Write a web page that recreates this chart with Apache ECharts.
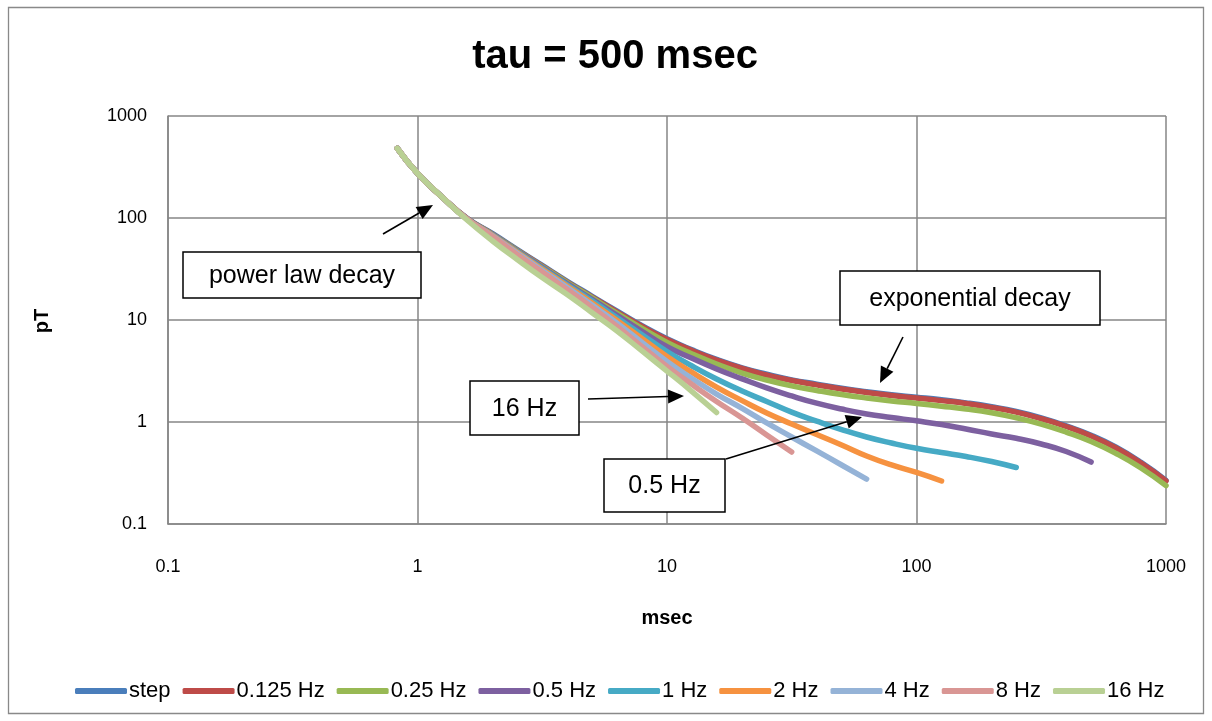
<!DOCTYPE html>
<html><head><meta charset="utf-8">
<script src="https://cdn.jsdelivr.net/npm/echarts@6/dist/echarts.min.js"></script>
<style>html,body{margin:0;padding:0;background:#fff}#c{width:1212px;height:721px}</style>
</head><body><div id="c"></div>
<script>
// time axis (msec), shared by all series
const timeMs = [0.83, 1, 1.26, 1.58, 2, 2.51, 3.16, 3.98, 5.01, 6.31, 7.94, 10, 12.6, 15.8, 20, 25.1, 31.6, 39.8, 50.1, 63.1, 79.4, 100, 126, 158, 200, 251, 316, 398, 501, 631, 794, 1000];

// pT values per series
const stepVals  = [482, 274, 159, 99.5, 70.3, 49.1, 34.3, 24.0, 17.1, 12.2, 8.78, 6.54, 5.10, 4.11, 3.40, 2.94, 2.59, 2.35, 2.14, 1.98, 1.85, 1.75, 1.65, 1.54, 1.41, 1.27, 1.10, 0.917, 0.741, 0.565, 0.402, 0.268];
const hz0125    = [482, 274, 159, 98.9, 69.2, 48.3, 33.8, 23.6, 16.8, 11.98, 8.64, 6.44, 5.02, 4.05, 3.35, 2.89, 2.55, 2.31, 2.11, 1.95, 1.82, 1.72, 1.62, 1.52, 1.39, 1.25, 1.08, 0.903, 0.729, 0.556, 0.396, 0.264];
const hz025     = [482, 274, 159, 98.5, 68.9, 47.9, 33.4, 23.3, 16.5, 11.6, 8.26, 6.02, 4.64, 3.70, 3.02, 2.58, 2.26, 2.04, 1.86, 1.72, 1.61, 1.52, 1.43, 1.34, 1.23, 1.10, 0.954, 0.797, 0.644, 0.491, 0.354, 0.238];
const hz05      = [482, 274, 159, 98.3, 68.4, 47.5, 32.9, 22.7, 15.95, 11.1, 7.73, 5.47, 4.21, 3.31, 2.65, 2.16, 1.80, 1.53, 1.34, 1.20, 1.107, 1.027, 0.945, 0.854, 0.763, 0.692, 0.609, 0.514, 0.405];
const hz1       = [482, 274, 159, 98.1, 68.0, 46.8, 32.2, 22.1, 15.4, 10.5, 7.16, 4.91, 3.54, 2.64, 2.01, 1.59, 1.25, 1.02, 0.844, 0.713, 0.622, 0.552, 0.502, 0.459, 0.410, 0.358];
const hz2       = [482, 274, 159, 97.9, 67.4, 46.1, 31.5, 21.5, 14.7, 9.91, 6.59, 4.39, 3.06, 2.20, 1.62, 1.225, 0.956, 0.754, 0.595, 0.464, 0.379, 0.320, 0.264];
const hz4       = [482, 274, 159, 97.6, 66.6, 45.2, 30.6, 20.8, 14.0, 9.30, 6.03, 3.92, 2.67, 1.88, 1.36, 0.978, 0.713, 0.520, 0.379, 0.276];
const hz8       = [482, 274, 159, 97.2, 65.7, 44.0, 29.5, 19.9, 13.3, 8.66, 5.49, 3.50, 2.33, 1.59, 1.094, 0.746, 0.508];
const hz16      = [482, 274, 159, 95.6, 59.5, 39.2, 26.1, 17.8, 11.8, 7.80, 4.97, 3.16, 1.99, 1.24];

const seriesNames = ['step', '0.125 Hz', '0.25 Hz', '0.5 Hz', '1 Hz', '2 Hz', '4 Hz', '8 Hz', '16 Hz'];
const seriesVals = [stepVals, hz0125, hz025, hz05, hz1, hz2, hz4, hz8, hz16];
const colors = ['#4A7EBB', '#BE4B48', '#98B954', '#7D60A0', '#46AAC5', '#F69240', '#95B3D7', '#D99694', '#B9D094'];

const xTickLabels = ['0.1', '1', '10', '100', '1000'];
const yTickLabels = ['0.1', '1', '10', '100', '1000'];

const FONT = '"Liberation Sans", Arial, sans-serif';
const GRID = '#868686';

const chart = echarts.init(document.getElementById('c'), null, {renderer: 'canvas'});

function arrow(x1, y1, x2, y2) {
  const dx = x2 - x1, dy = y2 - y1;
  const len = Math.sqrt(dx * dx + dy * dy);
  const ux = dx / len, uy = dy / len;
  const hl = 16, hw = 7;
  const bx = x2 - ux * hl, by = y2 - uy * hl;
  return [
    {type: 'line', z: 100, shape: {x1: x1, y1: y1, x2: bx, y2: by}, style: {stroke: '#000', lineWidth: 1.6}},
    {type: 'polygon', z: 100, shape: {points: [[x2, y2], [bx - uy * hw, by + ux * hw], [bx + uy * hw, by - ux * hw]]}, style: {fill: '#000'}}
  ];
}
function box(x, y, w, h, text) {
  return [
    {type: 'rect', z: 100, shape: {x: x, y: y, width: w, height: h}, style: {fill: '#fff', stroke: '#000', lineWidth: 1.5}},
    {type: 'text', z: 101, x: x + w / 2, y: y + h / 2 + 1, style: {text: text, font: '25px ' + FONT, fill: '#000', textAlign: 'center', textVerticalAlign: 'middle'}}
  ];
}

const graphics = [].concat(
  [{type: 'rect', z: -1, shape: {x: 8.5, y: 7.5, width: 1195, height: 706}, style: {fill: null, stroke: '#898989', lineWidth: 1.3}}],
  [{type: 'text', x: 615, y: 57, style: {text: 'tau = 500 msec', font: 'bold 40px ' + FONT, fill: '#000', textAlign: 'center', textVerticalAlign: 'middle'}}],
  [{type: 'text', x: 667, y: 618, style: {text: 'msec', font: 'bold 20px ' + FONT, fill: '#000', textAlign: 'center', textVerticalAlign: 'middle'}}],
  [{type: 'text', x: 42, y: 321, rotation: Math.PI / 2, style: {text: 'pT', font: 'bold 20px ' + FONT, fill: '#000', textAlign: 'center', textVerticalAlign: 'middle'}}],
  arrow(383, 234, 433, 205),
  box(183, 252, 238, 46, 'power law decay'),
  arrow(903, 337, 880, 383),
  box(840, 271, 260, 54, 'exponential decay'),
  arrow(588, 399, 684, 396),
  box(470, 381, 109, 54, '16 Hz'),
  arrow(726, 459, 862, 417),
  box(604, 459, 121, 53, '0.5 Hz')
);

const option = {
  animation: false,
  backgroundColor: '#fff',
  grid: {left: 168, right: 46, top: 116, bottom: 197, containLabel: false},
  xAxis: {
    type: 'log', logBase: 10, min: 0.1, max: 1000,
    axisLine: {show: true, lineStyle: {color: GRID, width: 1.5}},
    axisTick: {show: false},
    axisLabel: {margin: 34, fontSize: 18, fontFamily: FONT, color: '#000',
      formatter: function (v) { const i = Math.round(Math.log10(v)) + 1; return xTickLabels[i] !== undefined ? xTickLabels[i] : ''; }},
    splitLine: {show: true, lineStyle: {color: GRID, width: 1.5}}
  },
  yAxis: {
    type: 'log', logBase: 10, min: 0.1, max: 1000,
    axisLine: {show: true, lineStyle: {color: GRID, width: 1.5}},
    axisTick: {show: false},
    axisLabel: {margin: 21, fontSize: 18, fontFamily: FONT, color: '#000',
      formatter: function (v) { const i = Math.round(Math.log10(v)) + 1; return yTickLabels[i] !== undefined ? yTickLabels[i] : ''; }},
    splitLine: {show: true, lineStyle: {color: GRID, width: 1.5}}
  },
  legend: {
    data: seriesNames, left: 70, top: 675, icon: 'roundRect', itemWidth: 52, itemHeight: 6, itemGap: 12,
    textStyle: {fontSize: 22, fontFamily: FONT, color: '#000', padding: [0, 0, 0, -3]}
  },
  series: seriesNames.map(function (n, i) {
    return {
      name: n, type: 'line', symbol: 'none', showSymbol: false, smooth: 0.5, z: 2 + i,
      data: seriesVals[i].map(function (v, j) { return [timeMs[j], v]; }),
      lineStyle: {width: 5.5, color: colors[i], cap: 'round', join: 'round'},
      itemStyle: {color: colors[i]}
    };
  }),
  graphic: graphics
};
chart.setOption(option);
</script></body></html>
